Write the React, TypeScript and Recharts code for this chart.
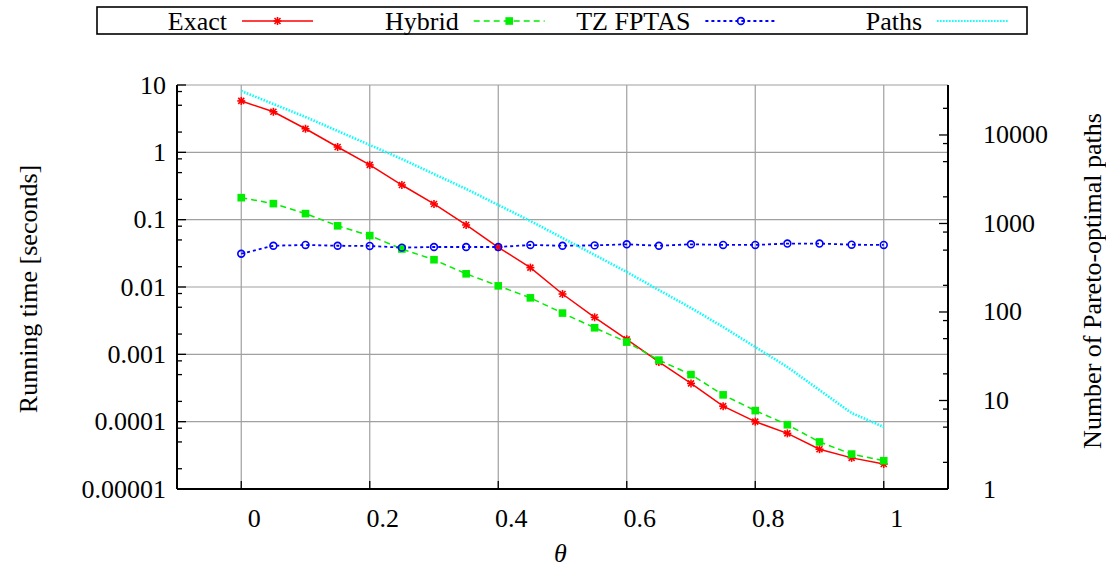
import { LineChart, Line, XAxis, YAxis, CartesianGrid, Legend, Label } from 'recharts'

const FONT = 'Liberation Serif, DejaVu Serif, Times New Roman, serif'
const FS = 26
const TEXT_STYLE = { fontFamily: FONT, fontSize: FS }

// theta values (x axis)
const theta = [0, 0.05, 0.1, 0.15, 0.2, 0.25, 0.3, 0.35, 0.4, 0.45, 0.5, 0.55, 0.6, 0.65, 0.7, 0.75, 0.8, 0.85, 0.9, 0.95, 1]

// running times in seconds (left axis)
const exactTime = [5.8, 4.0, 2.24, 1.2, 0.65, 0.327, 0.171, 0.0834, 0.0389, 0.0194, 0.00787, 0.00355, 0.00167, 0.00077, 0.00037, 0.00017, 0.0001, 0.000067, 0.000039, 0.000029, 0.0000235]
const hybridTime = [0.212, 0.173, 0.123, 0.081, 0.058, 0.0367, 0.0254, 0.0157, 0.0104, 0.0069, 0.0041, 0.00248, 0.00152, 0.00082, 0.0005, 0.00025, 0.000146, 0.00009, 0.00005, 0.000033, 0.0000263]
const tzTime = [0.0312, 0.041, 0.0421, 0.041, 0.0407, 0.0384, 0.0393, 0.0393, 0.0393, 0.0421, 0.041, 0.0415, 0.0431, 0.041, 0.0431, 0.0421, 0.0421, 0.0442, 0.0442, 0.0425, 0.0421]

// number of Pareto-optimal paths (right axis)
const paths = [31400, 22400, 15960, 11100, 7710, 5350, 3620, 2455, 1618, 1067, 686, 441, 283, 177, 111, 67.7, 40.2, 23.9, 13.1, 7.22, 5.02]

const X_TICKS = [0, 0.2, 0.4, 0.6, 0.8, 1]
const LEFT_MAJOR = [0.00001, 0.0001, 0.001, 0.01, 0.1, 1, 10]
const RIGHT_MAJOR = [1, 10, 100, 1000, 10000]
const MINOR_MULTS = [2, 5, 8]

const minorTicks = (majors: number[], max: number) =>
  majors.flatMap((m) => MINOR_MULTS.map((k) => +(m * k).toPrecision(3))).filter((v) => v < max)

const LEFT_TICKS = [...LEFT_MAJOR, ...minorTicks(LEFT_MAJOR, 10)]
const RIGHT_TICKS = [...RIGHT_MAJOR, ...minorTicks(RIGHT_MAJOR, 36700)]

const data = theta.map((t, i) => ({
  theta: t,
  exact: exactTime[i],
  hybrid: hybridTime[i],
  tz: tzTime[i],
  paths: paths[i],
}))

const SERIES = [
  { key: 'exact', name: 'Exact', color: '#ff0000', dash: undefined, width: 1.5, marker: 'star' },
  { key: 'hybrid', name: 'Hybrid', color: '#00ee00', dash: '6 4', width: 1.5, marker: 'square' },
  { key: 'tz', name: 'TZ FPTAS', color: '#0000ff', dash: '3 3', width: 1.8, marker: 'circle' },
  { key: 'paths', name: 'Paths', color: '#00ffff', dash: '1.5 1.5', width: 2.6, marker: 'none' },
]

function Marker({ cx, cy, kind, color }: any) {
  if (kind === 'star') {
    return (
      <g stroke={color} strokeWidth={1.6}>
        <line x1={cx - 4} y1={cy} x2={cx + 4} y2={cy} />
        <line x1={cx} y1={cy - 4} x2={cx} y2={cy + 4} />
        <line x1={cx - 3} y1={cy - 3} x2={cx + 3} y2={cy + 3} />
        <line x1={cx - 3} y1={cy + 3} x2={cx + 3} y2={cy - 3} />
      </g>
    )
  }
  if (kind === 'square') {
    return <rect x={cx - 3.8} y={cy - 3.8} width={7.6} height={7.6} fill={color} />
  }
  if (kind === 'circle') {
    return <circle cx={cx} cy={cy} r={3.4} fill="none" stroke={color} strokeWidth={1.6} />
  }
  return null
}

const fmt = (v: number) => String(v)

function LeftTick({ x, y, payload }: any) {
  const major = LEFT_MAJOR.includes(payload.value)
  return (
    <g>
      <line x1={x} y1={y} x2={x + (major ? 9 : 5)} y2={y} stroke="#000" strokeWidth={1.3} />
      {major && (
        <text x={x - 11} y={y} textAnchor="end" dominantBaseline="central" style={TEXT_STYLE} fill="#000">
          {fmt(payload.value)}
        </text>
      )}
    </g>
  )
}

function MirrorTick({ x, y, payload }: any) {
  const major = LEFT_MAJOR.includes(payload.value)
  return <line x1={x} y1={y} x2={x - (major ? 9 : 5)} y2={y} stroke="#000" strokeWidth={1.3} />
}

function RightTick({ x, y, payload }: any) {
  const major = RIGHT_MAJOR.includes(payload.value)
  return (
    <g>
      <line x1={x} y1={y} x2={x - (major ? 9 : 5)} y2={y} stroke="#000" strokeWidth={1.3} />
      {major && (
        <text x={x + 35} y={y} textAnchor="start" dominantBaseline="central" style={TEXT_STYLE} fill="#000">
          {fmt(payload.value)}
        </text>
      )}
    </g>
  )
}

function BottomTick({ x, y, payload }: any) {
  return (
    <g>
      <line x1={x} y1={y} x2={x} y2={y - 8} stroke="#000" strokeWidth={1.3} />
      <text x={x + 13} y={y + 29} textAnchor="middle" dominantBaseline="central" style={TEXT_STYLE} fill="#000">
        {fmt(payload.value)}
      </text>
    </g>
  )
}

function TopTick({ x, y }: any) {
  return <line x1={x} y1={y} x2={x} y2={y + 8} stroke="#000" strokeWidth={1.3} />
}

function LegendBox() {
  const step = 231.7
  return (
    <svg width={932} height={29} style={{ display: 'block' }}>
      <rect x={1} y={1} width={930} height={27} fill="#fff" stroke="#000" strokeWidth={1.6} />
      {SERIES.map((s, i) => {
        const end = 131 + i * step
        return (
          <g key={s.key}>
            <text x={end} y={15} textAnchor="end" dominantBaseline="central" style={TEXT_STYLE} fill="#000">
              {s.name}
            </text>
            <line x1={end + 15} y1={15} x2={end + 86} y2={15} stroke={s.color} strokeWidth={s.key === 'paths' ? 2 : s.width} strokeDasharray={s.dash} />
            <Marker cx={end + 50.5} cy={15} kind={s.marker} color={s.color} />
          </g>
        )
      })}
    </svg>
  )
}

function AxisTitle({ viewBox, value, dx, dy, rotate, italic }: any) {
  const cx = viewBox.x + dx
  const cy = rotate ? viewBox.y + viewBox.height / 2 + dy : viewBox.y + dy
  const x = rotate ? cx : viewBox.x + viewBox.width / 2 + dx
  return (
    <text
      x={x}
      y={cy}
      textAnchor="middle"
      dominantBaseline="central"
      transform={rotate ? `rotate(-90, ${x}, ${cy})` : undefined}
      style={{ ...TEXT_STYLE, fontStyle: italic ? 'italic' : 'normal' }}
      fill="#000"
    >
      {value}
    </text>
  )
}

export default function App() {
  return (
    <div style={{ position: 'absolute', left: 0, top: 0, width: 1106, height: 567, background: '#fff', fontFamily: FONT }}>
      <LineChart width={1106} height={567} data={data} margin={{ top: 85, right: 0, bottom: 0, left: 0 }}>
        <CartesianGrid
          yAxisId="left"
          horizontalValues={LEFT_MAJOR}
          verticalValues={X_TICKS}
          stroke="#a0a0a0"
          strokeWidth={1.2}
        />
        <XAxis
          dataKey="theta"
          type="number"
          domain={[-0.1, 1.1]}
          ticks={X_TICKS}
          interval={0}
          height={78}
          tickSize={0}
          tickMargin={0}
          tick={<BottomTick />}
          axisLine={{ stroke: '#000', strokeWidth: 2 }}
          allowDataOverflow
        >
          <Label content={<AxisTitle value="θ" dx={-2} dy={64} italic />} />
        </XAxis>
        <XAxis
          xAxisId="top"
          orientation="top"
          dataKey="theta"
          type="number"
          domain={[-0.1, 1.1]}
          ticks={X_TICKS}
          interval={0}
          height={0}
          tickSize={0}
          tickMargin={0}
          tick={<TopTick />}
          axisLine={{ stroke: '#000', strokeWidth: 2 }}
          allowDataOverflow
        />
        <YAxis
          yAxisId="left"
          type="number"
          scale="log"
          domain={[0.00001, 10]}
          ticks={LEFT_TICKS}
          interval={0}
          width={177}
          tickSize={0}
          tickMargin={0}
          tick={<LeftTick />}
          axisLine={{ stroke: '#000', strokeWidth: 2 }}
          allowDataOverflow
        >
          <Label content={<AxisTitle value="Running time [seconds]" dx={28} dy={2} rotate />} />
        </YAxis>
        <YAxis
          yAxisId="leftMirror"
          orientation="right"
          type="number"
          scale="log"
          domain={[0.00001, 10]}
          ticks={LEFT_TICKS}
          interval={0}
          width={0}
          tickSize={0}
          tickMargin={0}
          tick={<MirrorTick />}
          axisLine={false}
          allowDataOverflow
        />
        <YAxis
          yAxisId="right"
          orientation="right"
          type="number"
          scale="log"
          domain={[1, 36700]}
          ticks={RIGHT_TICKS}
          interval={0}
          width={158}
          tickSize={0}
          tickMargin={0}
          tick={<RightTick />}
          axisLine={{ stroke: '#000', strokeWidth: 2 }}
          allowDataOverflow
        >
          <Label content={<AxisTitle value="Number of Pareto-optimal paths" dx={144} dy={-6} rotate />} />
        </YAxis>
        <Legend verticalAlign="middle" align="center" wrapperStyle={{ top: 6, left: 96, width: 932, height: 29 }} content={() => <LegendBox />} />
        {SERIES.map((s) => (
          <Line
            key={s.key}
            yAxisId={s.key === 'paths' ? 'right' : 'left'}
            dataKey={s.key}
            name={s.name}
            type="linear"
            stroke={s.color}
            strokeWidth={s.width}
            strokeDasharray={s.dash}
            dot={s.marker === 'none' ? false : (p: any) => <Marker key={`${s.key}-${p.index}`} cx={p.cx} cy={p.cy} kind={s.marker} color={s.color} />}
            activeDot={false}
            isAnimationActive={false}
          />
        ))}
      </LineChart>
    </div>
  )
}
